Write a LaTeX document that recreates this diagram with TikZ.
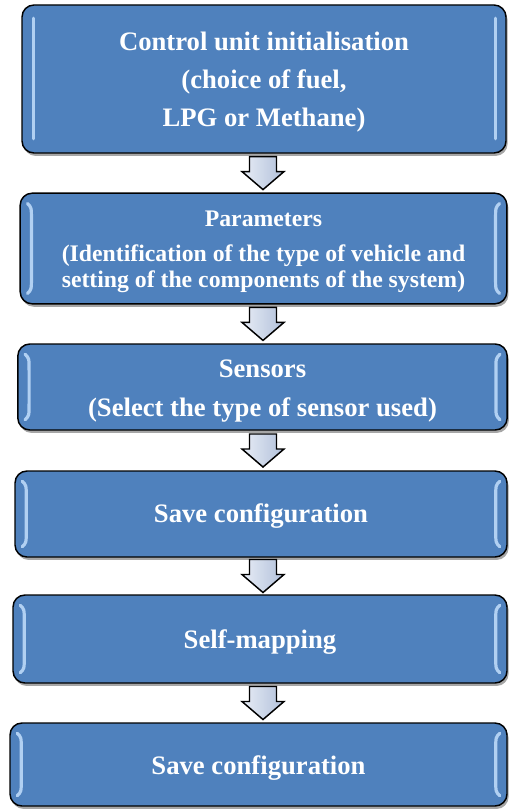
\documentclass[tikz,border=0pt]{standalone}
\usepackage{fontspec}
\setmainfont{Liberation Serif}
\usetikzlibrary{shadows,calc}
\definecolor{boxblue}{HTML}{4F81BD}
\definecolor{glowblue}{HTML}{BCD9F8}
\definecolor{arrowlight}{HTML}{E8EDF6}
\definecolor{arrowdark}{HTML}{B1C0DA}
\newcommand\boxglow[1]{%
  \draw[glowline] ($(#1.north west)+(8,11)$) .. controls ($(#1.north west)+(12,15)$) .. ($(#1.north west)+(12,27)$) -- ($(#1.south west)+(12,-27)$) .. controls ($(#1.south west)+(12,-15)$) .. ($(#1.south west)+(8,-11)$);
  \draw[glowline] ($(#1.north east)+(-8,11)$) .. controls ($(#1.north east)+(-12,15)$) .. ($(#1.north east)+(-12,27)$) -- ($(#1.south east)+(-12,-27)$) .. controls ($(#1.south east)+(-12,-15)$) .. ($(#1.south east)+(-8,-11)$);
}
\newcommand\flowarrow[3]{%
  \coordinate (#1m) at ($(#2.south)!0.5!(#3.north)$);
  \coordinate (#1) at (#1m -| axis);
  \draw[blockarrow] ($(#1)+(-13.5,-16.5)$) -- ($(#1)+(13.5,-16.5)$) -- ($(#1)+(13.5,-1.5)$) -- ($(#1)+(21,-1.5)$) -- ($(#1)+(0,16.5)$) -- ($(#1)+(-21,-1.5)$) -- ($(#1)+(-13.5,-1.5)$) -- cycle;
}
\begin{document}
\begin{tikzpicture}[x=0.75pt,y=-0.75pt,
  flowbox/.style={draw=black, line width=1.1pt, rounded corners=9pt, fill=boxblue,
    inner sep=0pt,
    drop shadow={shadow xshift=1.2pt, shadow yshift=-2.2pt, opacity=0.35, fill=black}},
  boxtext/.style={text=white, align=center, inner sep=0pt},
  glowline/.style={glowblue, line width=2.4pt, line cap=round, opacity=0.9},
  blockarrow/.style={draw=black, line width=1.1pt, line join=miter,
    left color=arrowlight, right color=arrowdark}]
\useasboundingbox (0,0) rectangle (508,809);
\fill[white] (0,0) rectangle (508,809);
\coordinate (axis) at (263,0);

\node[flowbox, minimum width=363pt, minimum height=111pt] (b1) at (264,79) {};
\node[flowbox, minimum width=365pt, minimum height=83pt] (b2) at (263.5,248.5) {};
\node[flowbox, minimum width=367pt, minimum height=64.5pt] (b3) at (262.5,387) {};
\node[flowbox, minimum width=369pt, minimum height=64.5pt] (b4) at (261,514) {};
\node[flowbox, minimum width=370.5pt, minimum height=66pt] (b5) at (260,639) {};
\node[flowbox, minimum width=372.75pt, minimum height=62.25pt] (b6) at (258.5,764.5) {};

\draw[glowline] ($(b1.north west)+(12,14)$) -- ($(b1.south west)+(12,-15)$);
\draw[glowline] ($(b1.north east)+(-11,14)$) -- ($(b1.south east)+(-11,-15)$);
\boxglow{b2}
\boxglow{b3}
\boxglow{b4}
\boxglow{b5}
\boxglow{b6}

\node[boxtext, font=\bfseries\fontsize{20}{28.5}\selectfont] (t1) at ($(b1.center)+(0,3.5)$)
  {Control unit initialisation\\(choice of fuel,\\LPG or Methane)};
\node[boxtext, font=\bfseries\fontsize{17.8}{19.5}\selectfont] (t2) at ($(b2.center)+(0,3.5)$)
  {Parameters\\[6.75pt](Identification of the type of vehicle and\\setting of the components of the system)};
\node[boxtext, font=\bfseries\fontsize{20}{29.25}\selectfont] (t3) at ($(b3.center)+(0,4)$)
  {Sensors\\(Select the type of sensor used)};
\node[boxtext, font=\bfseries\fontsize{20}{24}\selectfont] (t4) at ($(b4.center)+(0,2.5)$)
  {Save configuration};
\node[boxtext, font=\bfseries\fontsize{20}{24}\selectfont] (t5) at ($(b5.center)+(0,3.5)$)
  {Self-mapping};
\node[boxtext, font=\bfseries\fontsize{20}{24}\selectfont] (t6) at ($(b6.center)+(0,3.5)$)
  {Save configuration};

\flowarrow{a1}{b1}{b2}
\flowarrow{a2}{b2}{b3}
\flowarrow{a3}{b3}{b4}
\flowarrow{a4}{b4}{b5}
\flowarrow{a5}{b5}{b6}
\end{tikzpicture}
\end{document}
